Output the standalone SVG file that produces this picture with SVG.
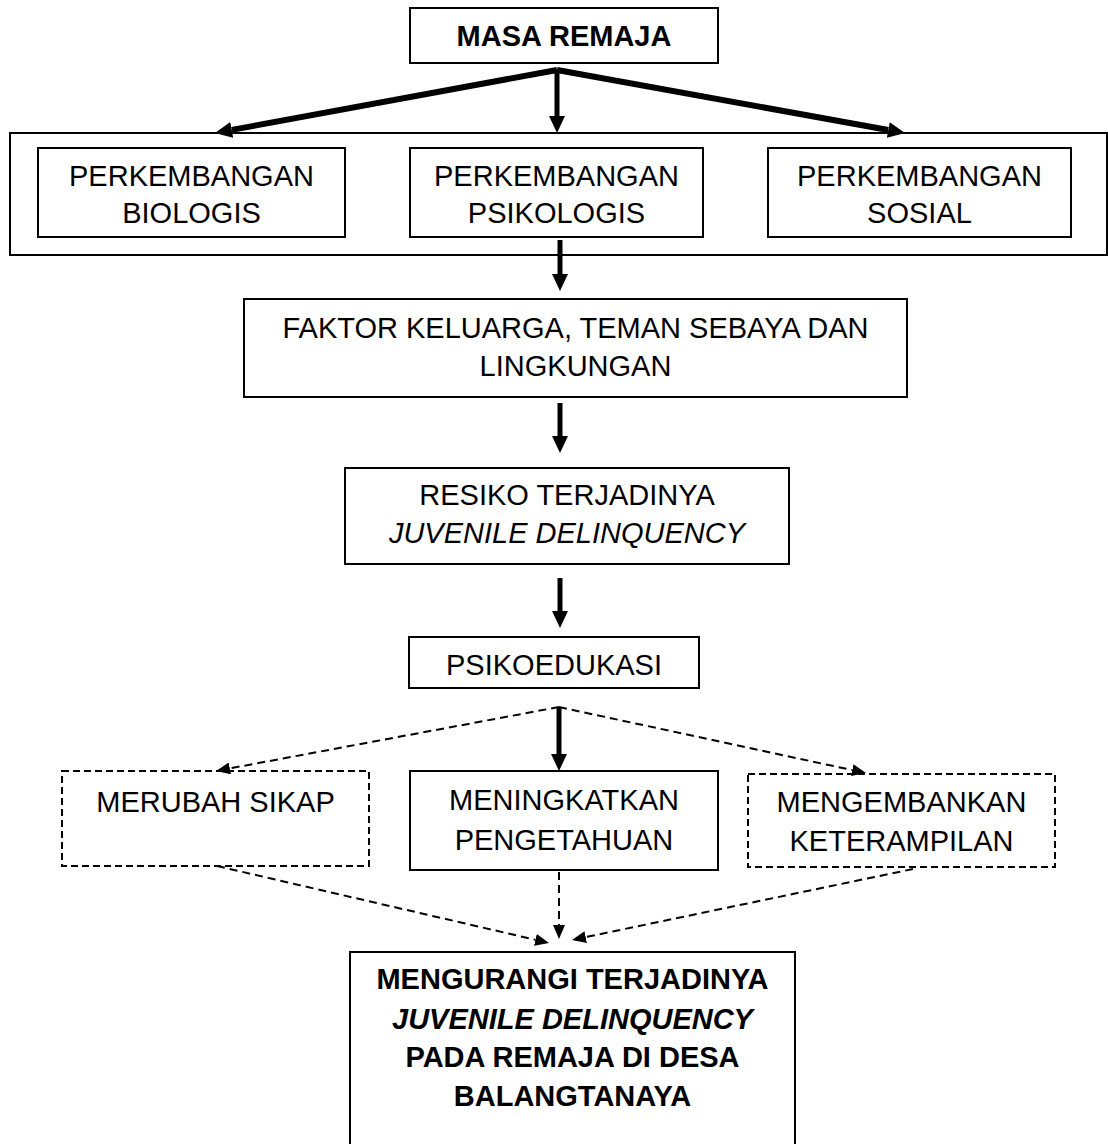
<svg xmlns="http://www.w3.org/2000/svg" width="1108" height="1144" viewBox="0 0 1108 1144">
<style>
text{font-family:"Liberation Sans",Arial,sans-serif;font-size:29px;fill:#000;text-anchor:middle}
.b{font-weight:bold}
.i{font-style:italic}
.box{fill:#fff;stroke:#000;stroke-width:2}
.dbox{fill:#fff;stroke:#000;stroke-width:2;stroke-dasharray:7 4}
.thick{stroke:#000;stroke-width:6;fill:none}
.mid{stroke:#000;stroke-width:5;fill:none}
.dash{stroke:#000;stroke-width:2;stroke-dasharray:8 5;fill:none}
</style>
<defs>
<marker id="big" markerUnits="userSpaceOnUse" markerWidth="17" markerHeight="16" refX="0" refY="8" orient="auto"><path d="M0,0 L17,8 L0,16 z" fill="#000"/></marker>
<marker id="small" markerUnits="userSpaceOnUse" markerWidth="14" markerHeight="12" refX="0" refY="6" orient="auto"><path d="M0,0 L14,6 L0,12 z" fill="#000"/></marker>
</defs>
<rect width="1108" height="1144" fill="#fff"/>
<g id="n-masa"><rect class="box" x="410" y="8" width="308" height="55"/><text class="b" x="564" y="46">MASA REMAJA</text></g>
<g id="n-group"><rect class="box" x="10" y="133" width="1097" height="122"/></g>
<g id="n-bio"><rect class="box" x="38" y="148" width="307" height="89"/><text x="191.5" y="186">PERKEMBANGAN</text><text x="191.5" y="223">BIOLOGIS</text></g>
<g id="n-psi"><rect class="box" x="410" y="148" width="293" height="89"/><text x="556.5" y="186">PERKEMBANGAN</text><text x="556.5" y="223">PSIKOLOGIS</text></g>
<g id="n-sos"><rect class="box" x="768" y="148" width="303" height="89"/><text x="919.5" y="186">PERKEMBANGAN</text><text x="919.5" y="223">SOSIAL</text></g>
<g id="n-faktor"><rect class="box" x="244" y="299" width="663" height="98"/><text x="575.5" y="338">FAKTOR KELUARGA, TEMAN SEBAYA DAN</text><text x="575.5" y="376">LINGKUNGAN</text></g>
<g id="n-resiko"><rect class="box" x="345" y="468" width="444" height="96"/><text x="567" y="505">RESIKO TERJADINYA</text><text class="i" x="567" y="543">JUVENILE DELINQUENCY</text></g>
<g id="n-psiko"><rect class="box" x="409" y="637" width="290" height="51"/><text x="554" y="675">PSIKOEDUKASI</text></g>
<g id="n-sikap"><rect class="dbox" x="62" y="771" width="307" height="95"/><text x="215.5" y="812">MERUBAH SIKAP</text></g>
<g id="n-tahu"><rect class="box" x="410" y="771" width="308" height="99"/><text x="564" y="810">MENINGKATKAN</text><text x="564" y="850">PENGETAHUAN</text></g>
<g id="n-terampil"><rect class="dbox" x="748" y="774" width="307" height="93"/><text x="901.5" y="812">MENGEMBANKAN</text><text x="901.5" y="851">KETERAMPILAN</text></g>
<g id="n-hasil"><rect class="box" x="350" y="952" width="445" height="220"/><text class="b" x="572.5" y="989">MENGURANGI TERJADINYA</text><text class="b i" x="572.5" y="1029">JUVENILE DELINQUENCY</text><text class="b" x="572.5" y="1067">PADA REMAJA DI DESA</text><text class="b" x="572.5" y="1106">BALANGTANAYA</text></g>
<g id="connectors">
<line class="thick" x1="557" y1="70" x2="231.7" y2="129.9" marker-end="url(#big)"/>
<line class="thick" x1="557" y1="70" x2="888.3" y2="130" marker-end="url(#big)"/>
<line class="mid" x1="557" y1="70" x2="557" y2="116" marker-end="url(#big)"/>
<line class="mid" x1="560" y1="240" x2="560" y2="274" marker-end="url(#big)"/>
<line class="mid" x1="560" y1="403" x2="560" y2="436" marker-end="url(#big)"/>
<line class="mid" x1="560" y1="578" x2="560" y2="611" marker-end="url(#big)"/>
<line class="mid" x1="559" y1="707" x2="559" y2="754" marker-end="url(#big)"/>
<line class="dash" x1="559" y1="707" x2="229.8" y2="768.4" marker-end="url(#small)"/>
<line class="dash" x1="559" y1="707" x2="852.3" y2="770.1" marker-end="url(#small)"/>
<line class="dash" x1="217" y1="866" x2="535.4" y2="939.8" marker-end="url(#small)"/>
<line class="dash" x1="559" y1="872" x2="559" y2="925" marker-end="url(#small)"/>
<line class="dash" x1="913" y1="869" x2="585.7" y2="937.1" marker-end="url(#small)"/>
</g>
</svg>
